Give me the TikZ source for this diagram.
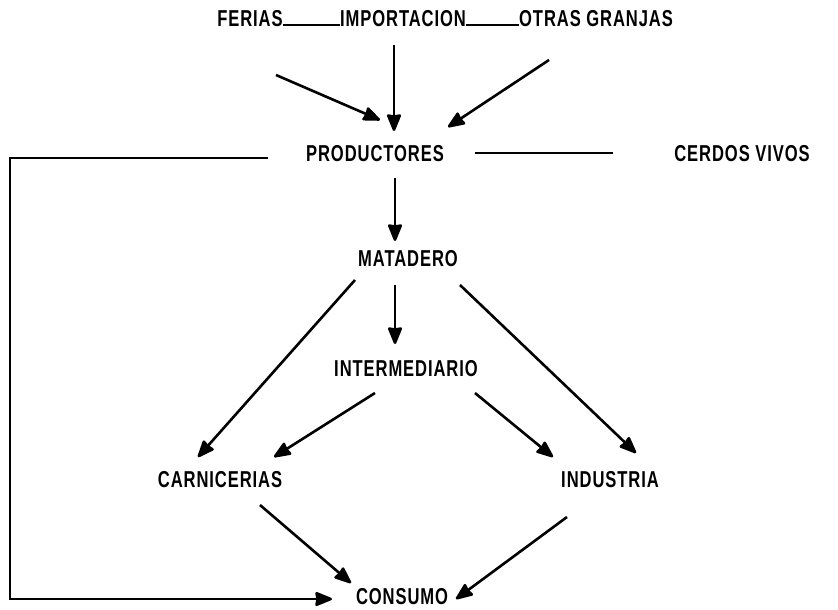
\documentclass[tikz,border=0pt]{standalone}
\usepackage{fontspec}
\newfontfamily\typ{Liberation Sans}[FakeStretch=0.72,LetterSpace=4]
\usetikzlibrary{arrows.meta}
\begin{document}
\begin{tikzpicture}[x=1pt,y=-1pt,
  lbl/.style={font=\typ\fontsize{23}{25}\selectfont\bfseries, inner sep=0pt, anchor=center},
  conn/.style={line width=2.6pt},
  arr/.style={conn, -{Stealth[length=19pt,width=15pt,inset=1pt,round]}}]
\useasboundingbox (0,0) rectangle (838,610);
\node[lbl] (fer) at (250,19) {FERIAS};
\node[lbl] (imp) at (403,19) {IMPORTACION};
\node[lbl] (otr) at (596,19) {OTRAS GRANJAS};
\node[lbl] (pro) at (375,154) {PRODUCTORES};
\node[lbl] (cer) at (742,154) {CERDOS VIVOS};
\node[lbl] (mat) at (408,259) {MATADERO};
\node[lbl] (int) at (406,369) {INTERMEDIARIO};
\node[lbl] (car) at (220,480) {CARNICERIAS};
\node[lbl] (ind) at (610,480) {INDUSTRIA};
\node[lbl] (con) at (402,597) {CONSUMO};
% helper coordinates
\coordinate (f1) at (276,75);  \coordinate (f2) at (380,120);
\coordinate (i1) at (394,45);  \coordinate (i2) at (394,131);
\coordinate (o1) at (549,60);  \coordinate (o2) at (448,127);
\coordinate (p1) at (395,178); \coordinate (m0) at (395,241);
\coordinate (m1) at (395,285); \coordinate (t0) at (395,344);
\coordinate (m2) at (355,280); \coordinate (c0) at (198,457);
\coordinate (m3) at (460,285); \coordinate (d0) at (636,453);
\coordinate (t1) at (375,393); \coordinate (c1) at (274,457);
\coordinate (t2) at (475,393); \coordinate (d1) at (553,457);
\coordinate (c2) at (260,505); \coordinate (n1) at (351,583);
\coordinate (d2) at (567,517); \coordinate (n2) at (456,599);
\coordinate (l0) at (268,158); \coordinate (l1) at (10,158);
\coordinate (l2) at (10,599);  \coordinate (n0) at (332,599);
\coordinate (h1) at (475,153); \coordinate (h2) at (613,153);
% connectors
\draw[line width=1.6pt] (fer.east) ++(0,6) coordinate (fa) -- (fa -| imp.west);
\draw[line width=1.6pt] (imp.east) ++(0,6) coordinate (ia) -- (ia -| otr.west);
\draw[line width=1.6pt] (h1) -- (h2);
\draw[arr] (f1) -- (f2);
\draw[arr] (i1) -- (i2);
\draw[arr] (o1) -- (o2);
\draw[arr] (p1) -- (m0);
\draw[arr] (m1) -- (t0);
\draw[arr] (m2) -- (c0);
\draw[arr] (m3) -- (d0);
\draw[arr] (t1) -- (c1);
\draw[arr] (t2) -- (d1);
\draw[arr] (c2) -- (n1);
\draw[arr] (d2) -- (n2);
\draw[arr] (l0) -- (l1) -- (l2) -- (n0);
\end{tikzpicture}
\end{document}
